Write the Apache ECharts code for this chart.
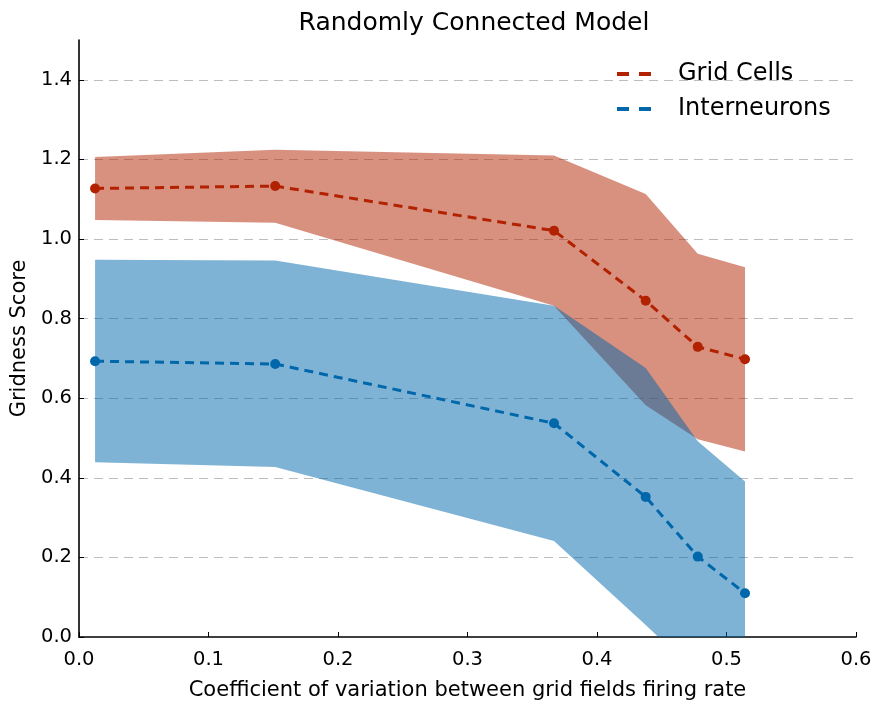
<!DOCTYPE html>
<html>
<head>
<meta charset="utf-8">
<script src="https://cdn.jsdelivr.net/npm/echarts@6/dist/echarts.min.js"></script>
<style>html,body{margin:0;padding:0;background:#fff}#c{width:878px;height:706px}</style>
</head>
<body>
<div id="c"></div>
<script>
const cv = [0.0124, 0.1515, 0.3668, 0.4376, 0.4778, 0.5143];
const gridMean = [1.127, 1.133, 1.021, 0.845, 0.729, 0.698];
const gridUpper = [1.206, 1.224, 1.210, 1.113, 0.963, 0.929];
const gridLower = [1.048, 1.041, 0.832, 0.582, 0.497, 0.466];
const interMean = [0.693, 0.686, 0.537, 0.352, 0.202, 0.110];
const interUpper = [0.948, 0.946, 0.832, 0.676, 0.492, 0.391];
const interLower = [0.439, 0.427, 0.241, 0.030, -0.093, -0.20];
const xTicks = [0, 0.1, 0.2, 0.3, 0.4, 0.5, 0.6];
const yTicks = [0, 0.2, 0.4, 0.6, 0.8, 1.0, 1.2, 1.4];

const RED = '#b22200', BLUE = '#0067ab';
const FONT = 'DejaVu Sans';

function band(lo, hi, fill) {
  return {
    type: 'custom',
    clip: true,
    silent: true,
    data: [0],
    renderItem: function (params, api) {
      const pts = [];
      for (let i = 0; i < cv.length; i++) pts.push(api.coord([cv[i], hi[i]]));
      for (let i = cv.length - 1; i >= 0; i--) pts.push(api.coord([cv[i], lo[i]]));
      return { type: 'polygon', shape: { points: pts }, style: { fill: fill } };
    }
  };
}
function pairs(ys) { return cv.map((x, i) => [x, ys[i]]); }

const chart = echarts.init(document.getElementById('c'), null, { renderer: 'canvas' });
chart.setOption({
  animation: false,
  textStyle: { fontFamily: FONT },
  title: {
    text: 'Randomly Connected Model', left: 469, top: 6, textAlign: 'center',
    textStyle: { fontFamily: FONT, fontSize: 25, fontWeight: 'normal', color: '#000' }
  },
  legend: {
    orient: 'vertical', left: 612, top: 57, itemGap: 11,
    itemWidth: 34, itemHeight: 4,
    icon: 'path://M0,0H12V4H0Z M22,0H34V4H22Z',
    textStyle: { fontFamily: FONT, fontSize: 24, color: '#000', padding: [0, 0, 0, 22] },
    data: ['Grid Cells', 'Interneurons']
  },
  grid: { left: 79, right: 22, top: 40, bottom: 66, containLabel: false },
  xAxis: {
    type: 'value', min: 0, max: 0.6, interval: 0.1,
    name: 'Coefficient of variation between grid fields firing rate',
    nameLocation: 'middle', nameGap: 43,
    nameTextStyle: { fontFamily: FONT, fontSize: 21, color: '#000' },
    axisLine: { onZero: false, lineStyle: { color: '#000', width: 1.6 } },
    axisTick: { inside: true, length: 5, lineStyle: { color: '#000' } },
    axisLabel: { fontFamily: FONT, fontSize: 19.5, color: '#000', margin: 13,
      formatter: v => v.toFixed(1) },
    splitLine: { show: false }
  },
  yAxis: {
    type: 'value', min: 0, max: 1.5, interval: 0.2,
    name: 'Gridness Score', nameLocation: 'middle', nameGap: 45,
    nameTextStyle: { fontFamily: FONT, fontSize: 21, color: '#000' },
    axisLine: { show: true, lineStyle: { color: '#000', width: 1.6 } },
    axisTick: { inside: true, length: 5, lineStyle: { color: '#000' },
      customValues: yTicks },
    axisLabel: { fontFamily: FONT, fontSize: 19.5, color: '#000', margin: 7,
      customValues: yTicks,
      formatter: v => v.toFixed(1) },
    splitLine: { show: true, showMinLine: false,
      lineStyle: { color: '#bdbdbd', width: 1, type: [9, 6] } }
  },
  series: [
    band(gridLower, gridUpper, 'rgba(178,34,0,0.5)'),
    band(interLower, interUpper, 'rgba(0,103,171,0.5)'),
    {
      name: 'Grid Cells', type: 'line', data: pairs(gridMean),
      color: RED, symbol: 'circle', symbolSize: 10,
      itemStyle: { color: RED },
      lineStyle: { color: RED, width: 3, type: [9, 6] }
    },
    {
      name: 'Interneurons', type: 'line', data: pairs(interMean),
      color: BLUE, symbol: 'circle', symbolSize: 10,
      itemStyle: { color: BLUE },
      lineStyle: { color: BLUE, width: 3, type: [9, 6] }
    }
  ]
});
</script>
</body>
</html>
